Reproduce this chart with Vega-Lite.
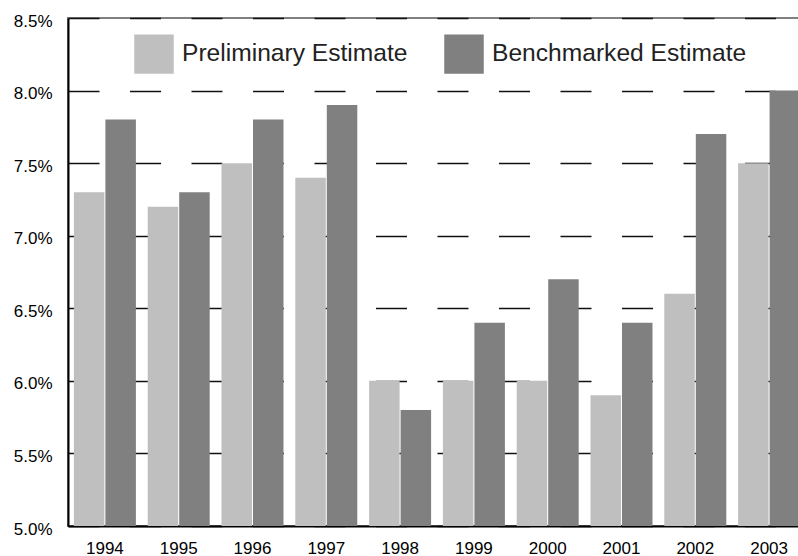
{
  "$schema": "https://vega.github.io/schema/vega-lite/v6.json",
  "autosize": {"type": "none"},
  "padding": {"left": 68, "top": 18, "right": -8, "bottom": 30},
  "width": 738,
  "height": 508,
  "background": "white",
  "config": {
    "font": "Liberation Sans",
    "view": {"stroke": "#808080", "strokeWidth": 2}
  },
  "data": {
    "values": [
      {"year": "1994", "series": "Preliminary Estimate", "value": 7.3},
      {"year": "1994", "series": "Benchmarked Estimate", "value": 7.8},
      {"year": "1995", "series": "Preliminary Estimate", "value": 7.2},
      {"year": "1995", "series": "Benchmarked Estimate", "value": 7.3},
      {"year": "1996", "series": "Preliminary Estimate", "value": 7.5},
      {"year": "1996", "series": "Benchmarked Estimate", "value": 7.8},
      {"year": "1997", "series": "Preliminary Estimate", "value": 7.4},
      {"year": "1997", "series": "Benchmarked Estimate", "value": 7.9},
      {"year": "1998", "series": "Preliminary Estimate", "value": 6.0},
      {"year": "1998", "series": "Benchmarked Estimate", "value": 5.8},
      {"year": "1999", "series": "Preliminary Estimate", "value": 6.0},
      {"year": "1999", "series": "Benchmarked Estimate", "value": 6.4},
      {"year": "2000", "series": "Preliminary Estimate", "value": 6.0},
      {"year": "2000", "series": "Benchmarked Estimate", "value": 6.7},
      {"year": "2001", "series": "Preliminary Estimate", "value": 5.9},
      {"year": "2001", "series": "Benchmarked Estimate", "value": 6.4},
      {"year": "2002", "series": "Preliminary Estimate", "value": 6.6},
      {"year": "2002", "series": "Benchmarked Estimate", "value": 7.7},
      {"year": "2003", "series": "Preliminary Estimate", "value": 7.5},
      {"year": "2003", "series": "Benchmarked Estimate", "value": 8.0}
    ]
  },
  "mark": {"type": "bar", "clip": true},
  "encoding": {
    "x": {
      "field": "year",
      "type": "nominal",
      "scale": {"paddingInner": 0.16, "paddingOuter": 0.08},
      "axis": {
        "title": null,
        "labelAngle": 0,
        "ticks": false,
        "labelPadding": 14,
        "labelFontSize": 17,
        "labelColor": "#000",
        "domainColor": "#000",
        "domainWidth": 2
      }
    },
    "xOffset": {
      "field": "series",
      "type": "nominal",
      "sort": ["Preliminary Estimate", "Benchmarked Estimate"],
      "scale": {"paddingInner": 0.032, "paddingOuter": 0}
    },
    "y": {
      "field": "value",
      "type": "quantitative",
      "scale": {"domain": [5, 8.5], "zero": false, "nice": false},
      "axis": {
        "title": null,
        "values": [5, 5.5, 6, 6.5, 7, 7.5, 8, 8.5],
        "labelExpr": "format(datum.value, '.1f') + '%'",
        "ticks": false,
        "labelPadding": 16,
        "labelOffset": 3,
        "labelFontSize": 17,
        "labelColor": "#000",
        "domainColor": "#000",
        "domainWidth": 2,
        "grid": true,
        "gridColor": "#111",
        "gridWidth": 1.5,
        "gridDash": [31, 30.5]
      }
    },
    "color": {
      "field": "series",
      "type": "nominal",
      "sort": ["Preliminary Estimate", "Benchmarked Estimate"],
      "scale": {
        "domain": ["Preliminary Estimate", "Benchmarked Estimate"],
        "range": ["#bfbfbf", "#808080"]
      },
      "legend": {
        "title": null,
        "orient": "none",
        "legendX": 66,
        "legendY": 16,
        "direction": "horizontal",
        "padding": 0,
        "symbolType": "square",
        "symbolSize": 1560,
        "symbolStrokeWidth": 0,
        "symbolOpacity": 1,
        "labelFontSize": 24.6,
        "labelColor": "#222",
        "labelOffset": 8,
        "columnPadding": 36,
        "labelLimit": 400
      }
    }
  }
}
